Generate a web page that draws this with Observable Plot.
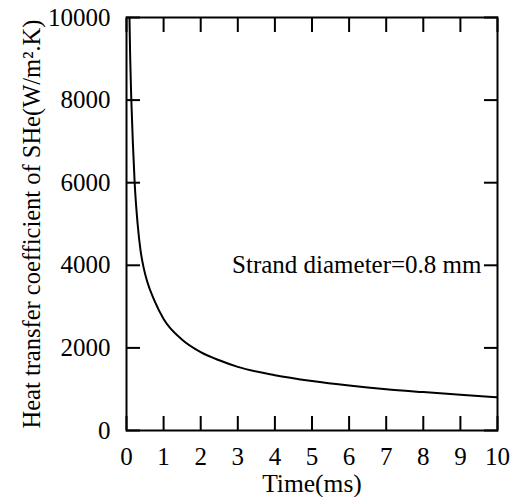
<!DOCTYPE html>
<html>
<head>
<meta charset="utf-8">
<script src="https://cdn.jsdelivr.net/npm/d3@7"></script>
<script src="https://cdn.jsdelivr.net/npm/@observablehq/plot@0.6"></script>
<style>
  html, body { margin: 0; padding: 0; background: #fff; }
  #chart svg { display: block; }
  #chart svg, #chart svg text, #chart svg g { font-family: "Liberation Serif", "Times New Roman", Times, "DejaVu Serif", serif !important; }
</style>
</head>
<body>
<div id="chart"></div>
<script>
// Time (ms)
const timeMs = [0.08, 0.1, 0.13, 0.17, 0.22, 0.3, 0.38, 0.46, 0.56, 0.75, 1, 1.5, 2, 2.5, 3, 4, 5, 6, 7, 8, 9, 10];
// Heat transfer coefficient of SHe (W/m^2.K)
const hValues = [10000, 9000, 8000, 7000, 6000, 5000, 4350, 3950, 3600, 3150, 2700, 2200, 1900, 1700, 1540, 1340, 1200, 1090, 1000, 930, 864, 806];

const xTicks = [0, 1, 2, 3, 4, 5, 6, 7, 8, 9, 10];
const yTicks = [0, 2000, 4000, 6000, 8000, 10000];

const xLabel = "Time(ms)";
const yLabel = "Heat transfer coefficient of SHe(W/m\u00B2.K)";
const noteText = ["Strand diameter=0.8 mm"];
const noteY = [4000];

const serif = "'Liberation Serif', 'Times New Roman', Times, 'DejaVu Serif', serif";
const curve = timeMs.map((t, i) => ({t, h: hValues[i]}));
const notes = noteText.map((s, i) => ({s, y: noteY[i]}));

const chart = Plot.plot({
  width: 513,
  height: 497,
  marginLeft: 126,
  marginRight: 16,
  marginTop: 17,
  marginBottom: 67,
  style: {fontSize: "25px", fontFamily: serif, color: "black", background: "white"},
  x: {domain: [0, 10], ticks: xTicks},
  y: {domain: [0, 10000], ticks: yTicks},
  marks: [
    // inward ticks on all four sides
    Plot.axisX(xTicks, {anchor: "bottom", tickSize: -14, strokeWidth: 2, tickFormat: () => "", label: null}),
    Plot.axisX(xTicks, {anchor: "top", tickSize: -14, strokeWidth: 2, tickFormat: () => "", label: null}),
    Plot.axisY(yTicks, {anchor: "left", tickSize: -14, strokeWidth: 2, tickFormat: () => "", label: null}),
    Plot.axisY(yTicks, {anchor: "right", tickSize: -14, strokeWidth: 2, tickFormat: () => "", label: null}),
    // tick labels
    Plot.axisX(xTicks, {anchor: "bottom", tickSize: 0, tickPadding: 17, fontSize: 25, fontFamily: serif, label: null}),
    Plot.axisY(yTicks, {anchor: "left", tickSize: 0, tickPadding: 16, fontSize: 25, fontFamily: serif, label: null, tickFormat: d => String(d)}),
    Plot.frame({stroke: "black", strokeWidth: 2}),
    Plot.line(curve, {x: "t", y: "h", stroke: "black", strokeWidth: 2, curve: "monotone-x", clip: true}),
    Plot.text(notes, {frameAnchor: "right", y: "y", text: "s", dx: -16, textAnchor: "end", lineAnchor: "middle", fontSize: 25, fontFamily: serif, fill: "black"}),
    Plot.text([xLabel], {frameAnchor: "bottom", text: d => d, dy: 53, textAnchor: "middle", lineAnchor: "middle", fontSize: 25.5, fontFamily: serif, fill: "black"}),
    Plot.text([yLabel], {frameAnchor: "left", text: d => d, dx: -94, rotate: -90, textAnchor: "middle", lineAnchor: "middle", fontSize: 24.5, fontFamily: serif, fill: "black"})
  ]
});
document.getElementById("chart").appendChild(chart);
</script>
</body>
</html>
